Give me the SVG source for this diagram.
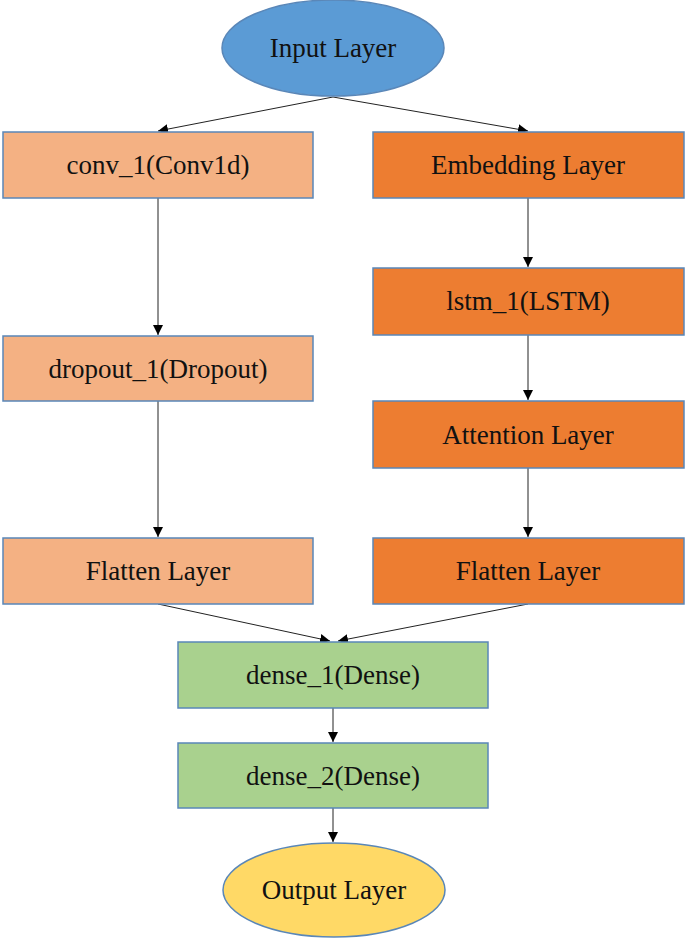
<svg xmlns="http://www.w3.org/2000/svg" width="685" height="941" viewBox="0 0 685 941">
<style>
.n{stroke:#5A87B8;stroke-width:1.5}
.t{font-family:"Liberation Serif","Tinos","Times New Roman","DejaVu Serif",serif;font-size:27px;fill:#111;text-anchor:middle}
.c{stroke:#222;stroke-width:1;fill:none;marker-end:url(#ah)}
</style>
<defs>
<marker id="ah" viewBox="0 0 10 10" refX="10" refY="5" markerWidth="10" markerHeight="10" markerUnits="userSpaceOnUse" orient="auto">
<path d="M0,0 L10,5 L0,10 z" fill="#000"/>
</marker>
</defs>
<rect width="685" height="941" fill="#fff"/>
<g id="connectors">
<line class="c" x1="333" y1="97" x2="158" y2="131"/>
<line class="c" x1="333" y1="97" x2="528" y2="131"/>
<line class="c" x1="158" y1="198" x2="158" y2="335"/>
<line class="c" x1="158" y1="401" x2="158" y2="537"/>
<line class="c" x1="528" y1="198" x2="528" y2="267"/>
<line class="c" x1="528" y1="335" x2="528" y2="400"/>
<line class="c" x1="528" y1="468" x2="528" y2="537"/>
<line class="c" x1="158" y1="604" x2="330" y2="641"/>
<line class="c" x1="528" y1="604" x2="338" y2="641"/>
<line class="c" x1="333" y1="708" x2="333" y2="742"/>
<line class="c" x1="333" y1="808" x2="333" y2="842"/>
</g>
<g id="input">
<ellipse class="n" cx="333" cy="48" rx="111" ry="48" fill="#5B9BD5"/>
<text class="t" x="333" y="57">Input Layer</text>
</g>
<g id="conv1">
<rect class="n" x="3" y="132" width="310" height="66" fill="#F4B183"/>
<text class="t" x="158" y="174">conv_1(Conv1d)</text>
</g>
<g id="dropout1">
<rect class="n" x="3" y="336" width="310" height="65" fill="#F4B183"/>
<text class="t" x="158" y="378">dropout_1(Dropout)</text>
</g>
<g id="flattenL">
<rect class="n" x="3" y="538" width="310" height="66" fill="#F4B183"/>
<text class="t" x="158" y="580">Flatten Layer</text>
</g>
<g id="embedding">
<rect class="n" x="373" y="132" width="311" height="66" fill="#ED7D31"/>
<text class="t" x="528" y="174">Embedding Layer</text>
</g>
<g id="lstm1">
<rect class="n" x="373" y="268" width="311" height="67" fill="#ED7D31"/>
<text class="t" x="528" y="310">lstm_1(LSTM)</text>
</g>
<g id="attention">
<rect class="n" x="373" y="401" width="311" height="67" fill="#ED7D31"/>
<text class="t" x="528" y="444">Attention Layer</text>
</g>
<g id="flattenR">
<rect class="n" x="373" y="538" width="311" height="66" fill="#ED7D31"/>
<text class="t" x="528" y="580">Flatten Layer</text>
</g>
<g id="dense1">
<rect class="n" x="178" y="642" width="310" height="66" fill="#A9D18E"/>
<text class="t" x="333" y="684">dense_1(Dense)</text>
</g>
<g id="dense2">
<rect class="n" x="178" y="743" width="310" height="65" fill="#A9D18E"/>
<text class="t" x="333" y="785">dense_2(Dense)</text>
</g>
<g id="output">
<ellipse class="n" cx="334" cy="890" rx="111" ry="47" fill="#FFD966"/>
<text class="t" x="334" y="899">Output Layer</text>
</g>
</svg>
